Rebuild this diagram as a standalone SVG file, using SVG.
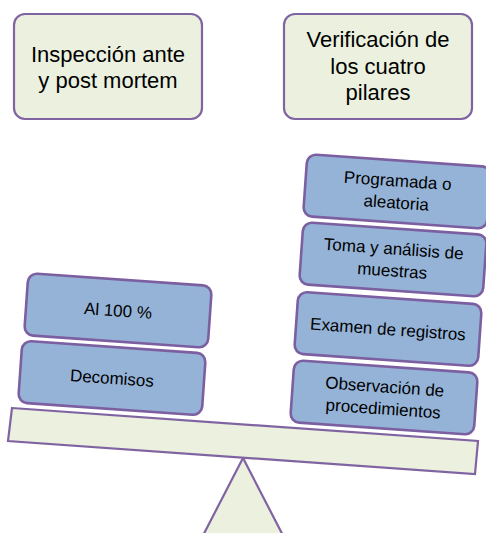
<svg xmlns="http://www.w3.org/2000/svg" width="486" height="533" viewBox="0 0 486 533">
<style>
.top{fill:#EBF1DE;stroke:#8064A2;stroke-width:2.2}
.blue{fill:#95B3D7;stroke:#7B5FA0;stroke-width:2.6}
.scale{fill:#EBF1DE;stroke:#8064A2;stroke-width:2.2}
.t22{font-family:"Liberation Sans",Arial,sans-serif;font-size:22px;fill:#000;text-anchor:middle}
.t17{font-family:"Liberation Sans",Arial,sans-serif;font-size:17px;fill:#000;text-anchor:middle}
</style>
<rect width="486" height="533" fill="#fff"/>
<g id="fulcrum">
<polygon class="scale" points="243,458 180,580 306,580"/>
</g>
<g id="beam">
<polygon class="scale" points="12,408 478,441 475,474 8,441"/>
</g>
<g id="node-inspeccion">
<rect class="top" x="14" y="14" width="188" height="105" rx="11"/>
<text class="t22" x="108" y="62">Inspección ante</text>
<text class="t22" x="108" y="88">y post mortem</text>
</g>
<g id="node-verificacion">
<rect class="top" x="284" y="14" width="188" height="105" rx="11"/>
<text class="t22" x="378" y="47">Verificación de</text>
<text class="t22" x="378" y="74">los cuatro</text>
<text class="t22" x="378" y="100">pilares</text>
</g>
<g id="node-al100" transform="translate(118,310.5) rotate(4)">
<rect class="blue" x="-92" y="-31" width="184" height="62" rx="9"/>
<text class="t17" x="0" y="6">Al 100 %</text>
</g>
<g id="node-decomisos" transform="translate(112,378) rotate(4)">
<rect class="blue" x="-92" y="-31" width="184" height="62" rx="9"/>
<text class="t17" x="0" y="6">Decomisos</text>
</g>
<g id="node-programada" transform="translate(397,191.5) rotate(4)">
<rect class="blue" x="-92" y="-31" width="184" height="62" rx="9"/>
<text class="t17" x="0" y="-5">Programada o</text>
<text class="t17" x="0" y="17">aleatoria</text>
</g>
<g id="node-toma" transform="translate(393,259.5) rotate(4)">
<rect class="blue" x="-92" y="-31" width="184" height="62" rx="9"/>
<text class="t17" x="0" y="-5">Toma y análisis de</text>
<text class="t17" x="0" y="17">muestras</text>
</g>
<g id="node-examen" transform="translate(388,329) rotate(4)">
<rect class="blue" x="-92" y="-31" width="184" height="62" rx="9"/>
<text class="t17" x="0" y="6">Examen de registros</text>
</g>
<g id="node-observacion" transform="translate(384,397.5) rotate(4)">
<rect class="blue" x="-92" y="-31" width="184" height="62" rx="9"/>
<text class="t17" x="0" y="-5">Observación de</text>
<text class="t17" x="0" y="17">procedimientos</text>
</g>
<g id="connectors"></g>
</svg>
